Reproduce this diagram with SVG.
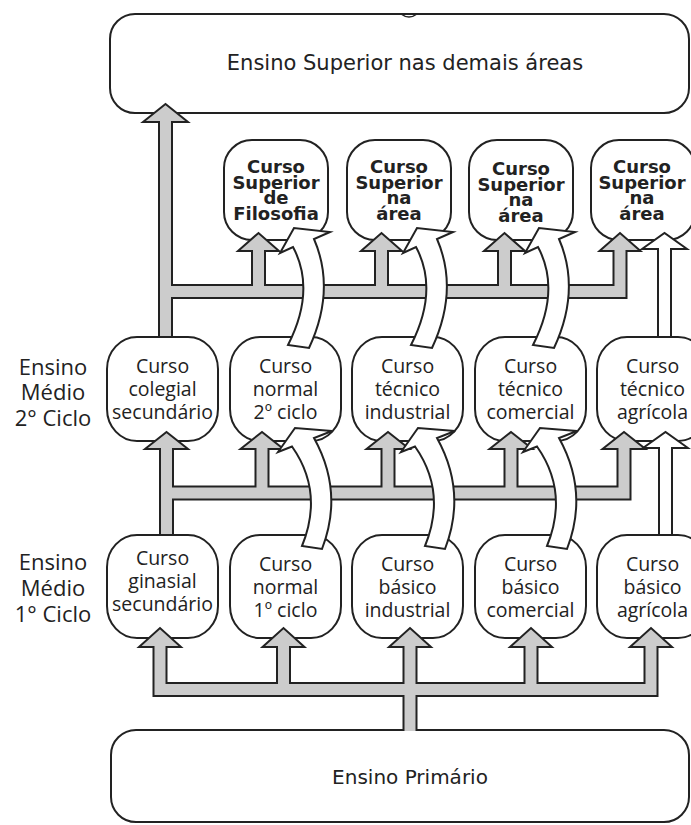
<svg xmlns="http://www.w3.org/2000/svg" width="691" height="825" viewBox="0 0 691 825">
<defs>
<style>
.box{fill:#fff;stroke:#222;stroke-width:2}
.big{font-family:"DejaVu Sans",Verdana,sans-serif;font-size:21px;fill:#222;text-anchor:middle}
.sup{font-family:"DejaVu Sans",Verdana,sans-serif;font-weight:bold;font-size:18px;fill:#222;text-anchor:middle}
.med{font-family:"Open Sans","Noto Sans",sans-serif;font-size:19.5px;fill:#222;text-anchor:middle}
.side{font-family:"Open Sans","Noto Sans",sans-serif;font-size:22px;fill:#222;text-anchor:middle}
.so{fill:none;stroke:#222;stroke-width:15;stroke-linejoin:miter}
.sg{fill:none;stroke:#cccccc;stroke-width:11;stroke-linejoin:miter}
.sw{fill:none;stroke:#fff;stroke-width:11}
.hg{fill:#cccccc;stroke:#222;stroke-width:2;stroke-linejoin:miter}
.hw{fill:#fff;stroke:#222;stroke-width:2;stroke-linejoin:miter}
.cv{fill:#fff;stroke:#222;stroke-width:2;stroke-linejoin:miter}
</style>
<path id="curveUp" d="M288,345 Q316,290 293,247 L280,253 L294,228 L330,232 L314,239 Q336,290 309,348 Z"/>
<path id="curveLo" d="M302,546 Q324,492 292,446.5 L278,452 L295,428 L332,431 L314,438 Q344,492 322,549 Z"/>
</defs>
<rect width="691" height="825" fill="#fff"/>

<g id="superior-demais">
<rect class="box" x="110" y="14" width="579" height="99" rx="25"/>
<path d="M401,14 Q409,20 417,14" fill="none" stroke="#222" stroke-width="1.5"/>
<text class="big" x="405" y="70">Ensino Superior nas demais áreas</text>
</g>
<g id="primario">
<rect class="box" x="111" y="730" width="578" height="92" rx="25"/>
<text class="big" x="410" y="784" style="font-size:20px">Ensino Primário</text>
</g>

<g id="sup-filosofia">
<rect class="box" x="224" y="140" width="104" height="100" rx="28"/>
<text class="sup" x="276"><tspan x="276" y="173">Curso</tspan><tspan x="276" y="189">Superior</tspan><tspan x="276" y="204">de</tspan><tspan x="276" y="220">Filosofia</tspan></text>
</g>
<g id="sup-area-1">
<rect class="box" x="347" y="140" width="104" height="100" rx="28"/>
<text class="sup" x="399"><tspan x="399" y="173">Curso</tspan><tspan x="399" y="189">Superior</tspan><tspan x="399" y="204">na</tspan><tspan x="399" y="220">área</tspan></text>
</g>
<g id="sup-area-2">
<rect class="box" x="469" y="140" width="104" height="100" rx="28"/>
<text class="sup" x="521"><tspan x="521" y="175">Curso</tspan><tspan x="521" y="191">Superior</tspan><tspan x="521" y="206">na</tspan><tspan x="521" y="222">área</tspan></text>
</g>
<g id="sup-area-3">
<rect class="box" x="591" y="140" width="104" height="100" rx="28"/>
<text class="sup" x="642"><tspan x="642" y="173">Curso</tspan><tspan x="642" y="189">Superior</tspan><tspan x="642" y="204">na</tspan><tspan x="642" y="220">área</tspan></text>
</g>

<g id="label-2ciclo">
<text class="side"><tspan x="53" y="375">Ensino</tspan><tspan x="53" y="400">Médio</tspan><tspan x="53" y="426">2° Ciclo</tspan></text>
</g>
<g id="label-1ciclo">
<text class="side"><tspan x="53" y="570">Ensino</tspan><tspan x="53" y="596">Médio</tspan><tspan x="53" y="622">1° Ciclo</tspan></text>
</g>

<g id="colegial">
<rect class="box" x="107" y="337" width="111" height="104" rx="30" ry="32"/>
<text class="med"><tspan x="162.5" y="373">Curso</tspan><tspan x="162.5" y="396">colegial</tspan><tspan x="162.5" y="419">secundário</tspan></text>
</g>
<g id="normal-2">
<rect class="box" x="230" y="337" width="111" height="104" rx="30" ry="32"/>
<text class="med"><tspan x="285.5" y="373">Curso</tspan><tspan x="285.5" y="396">normal</tspan><tspan x="285.5" y="419">2º ciclo</tspan></text>
</g>
<g id="tecnico-industrial">
<rect class="box" x="352" y="337" width="111" height="104" rx="30" ry="32"/>
<text class="med"><tspan x="407.5" y="373">Curso</tspan><tspan x="407.5" y="396">técnico</tspan><tspan x="407.5" y="419">industrial</tspan></text>
</g>
<g id="tecnico-comercial">
<rect class="box" x="475" y="337" width="111" height="104" rx="30" ry="32"/>
<text class="med"><tspan x="530.5" y="373">Curso</tspan><tspan x="530.5" y="396">técnico</tspan><tspan x="530.5" y="419">comercial</tspan></text>
</g>
<g id="tecnico-agricola">
<rect class="box" x="597" y="337" width="111" height="104" rx="30" ry="32"/>
<text class="med"><tspan x="652.5" y="373">Curso</tspan><tspan x="652.5" y="396">técnico</tspan><tspan x="652.5" y="419">agrícola</tspan></text>
</g>

<g id="ginasial">
<rect class="box" x="107" y="535" width="111" height="103" rx="30" ry="32"/>
<text class="med"><tspan x="162.5" y="565">Curso</tspan><tspan x="162.5" y="588">ginasial</tspan><tspan x="162.5" y="611">secundário</tspan></text>
</g>
<g id="normal-1">
<rect class="box" x="230" y="535" width="111" height="103" rx="30" ry="32"/>
<text class="med"><tspan x="285.5" y="571">Curso</tspan><tspan x="285.5" y="594">normal</tspan><tspan x="285.5" y="617">1º ciclo</tspan></text>
</g>
<g id="basico-industrial">
<rect class="box" x="352" y="535" width="111" height="103" rx="30" ry="32"/>
<text class="med"><tspan x="407.5" y="571">Curso</tspan><tspan x="407.5" y="594">básico</tspan><tspan x="407.5" y="617">industrial</tspan></text>
</g>
<g id="basico-comercial">
<rect class="box" x="475" y="535" width="111" height="103" rx="30" ry="32"/>
<text class="med"><tspan x="530.5" y="571">Curso</tspan><tspan x="530.5" y="594">básico</tspan><tspan x="530.5" y="617">comercial</tspan></text>
</g>
<g id="basico-agricola">
<rect class="box" x="597" y="535" width="111" height="103" rx="30" ry="32"/>
<text class="med"><tspan x="652.5" y="571">Curso</tspan><tspan x="652.5" y="594">básico</tspan><tspan x="652.5" y="617">agrícola</tspan></text>
</g>

<g id="connectors">
<!-- network A: 2nd cycle to higher education -->
<path class="so" d="M165.5,336 V122 M165.5,291.5 H620 V251 M258.5,291.5 V251 M381.5,291.5 V251 M504.5,291.5 V251"/>
<polygon class="hg" points="143,122 165.5,104 188,122"/>
<polygon class="hg" points="238,251 258.5,233 279,251"/>
<polygon class="hg" points="361,251 381.5,233 402,251"/>
<polygon class="hg" points="484,251 504.5,233 525,251"/>
<polygon class="hg" points="599.5,251 620,233 640.5,251"/>
<path class="sg" d="M165.5,336 V119 M165.5,291.5 H620 V248 M258.5,291.5 V248 M381.5,291.5 V248 M504.5,291.5 V248"/>

<!-- network B: 1st cycle to 2nd cycle -->
<path class="so" d="M166.5,534 V449 M166.5,493 H624 V449 M262,493 V449 M388,493 V449 M511,493 V449"/>
<polygon class="hg" points="145,449 166.5,432 188,449"/>
<polygon class="hg" points="240.5,449 262,432 283.5,449"/>
<polygon class="hg" points="366.5,449 388,432 409.5,449"/>
<polygon class="hg" points="489.5,449 511,432 532.5,449"/>
<polygon class="hg" points="602.5,449 624,432 645.5,449"/>
<path class="sg" d="M166.5,534 V446 M166.5,493 H624 V446 M262,493 V446 M388,493 V446 M511,493 V446"/>

<!-- network C: primary to 1st cycle -->
<path class="so" d="M160,647 V689.5 H651 V647 M283.5,689.5 V647 M531,689.5 V647 M410,731 V647"/>
<polygon class="hg" points="139,647 160,628 181,647"/>
<polygon class="hg" points="262.5,647 283.5,628 304.5,647"/>
<polygon class="hg" points="389,647 410,628 431,647"/>
<polygon class="hg" points="510,647 531,628 552,647"/>
<polygon class="hg" points="630,647 651,628 672,647"/>
<path class="sg" d="M160,644 V689.5 H651 V644 M283.5,689.5 V644 M531,689.5 V644 M410,731 V644"/>

<!-- white straight arrows (agricultural) -->
<path class="so" d="M664.5,336 V249 M665.5,534 V448"/>
<polygon class="hw" points="642,249 664.5,233 687,249"/>
<polygon class="hw" points="643,448 665.5,432 688,448"/>
<path class="sw" d="M664.5,336 V246 M665.5,534 V445"/>

<!-- white curved arrows -->
<use href="#curveUp" class="cv"/>
<use href="#curveUp" class="cv" transform="translate(123,0)"/>
<use href="#curveUp" class="cv" transform="translate(245,0)"/>
<use href="#curveLo" class="cv"/>
<use href="#curveLo" class="cv" transform="translate(123,0)"/>
<use href="#curveLo" class="cv" transform="translate(245,0)"/>
</g>
</svg>
